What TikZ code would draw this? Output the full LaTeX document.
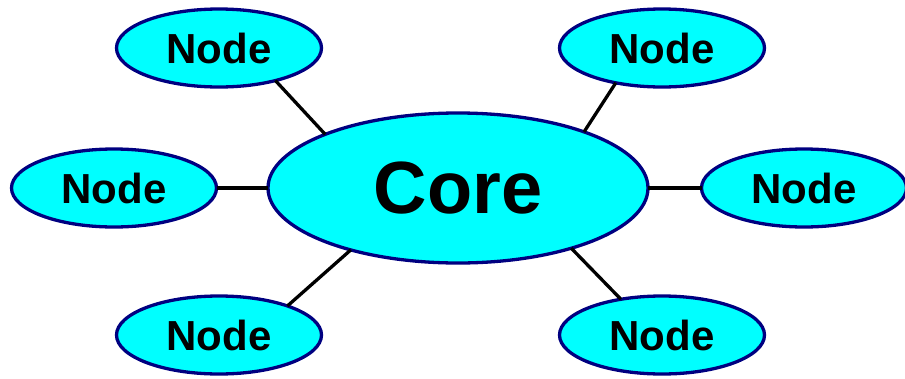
\documentclass[tikz,border=0pt]{standalone}
\usepackage{fontspec}
\setmainfont{Liberation Sans}
\usetikzlibrary{shapes.geometric}
\definecolor{rimblue}{RGB}{0,0,128}
\definecolor{fillcyan}{RGB}{0,255,255}
\tikzset{
  blob/.style={ellipse, draw=rimblue, fill=fillcyan, line width=3.3pt,
    inner sep=0pt, outer sep=0pt},
  leaf/.style={blob, minimum width=205pt, minimum height=78pt,
    font=\fontsize{42}{42}\selectfont\bfseries},
  hub/.style={blob, minimum width=380pt, minimum height=150pt,
    font=\fontsize{74}{74}\selectfont\bfseries},
  link/.style={draw=black, line width=3.3pt}
}
\begin{document}
\begin{tikzpicture}[x=1pt,y=-1pt]
\useasboundingbox (0,0) rectangle (905,378);
\node[hub]  (core) at (458,188) {Core};
\node[leaf] (tl) at (219,48)  {Node};
\node[leaf] (tr) at (662,48)  {Node};
\node[leaf] (ml) at (114,188) {Node};
\node[leaf] (mr) at (804,188) {Node};
\node[leaf] (bl) at (219,335) {Node};
\node[leaf] (br) at (662,335) {Node};
\draw[link] (tl.-30) -- (core.158);
\draw[link] (tr.-143) -- (core.24);
\draw[link] (ml.east) -- (core.west);
\draw[link] (mr.west) -- (core.east);
\draw[link] (bl.23) -- (core.210);
\draw[link] (br.139) -- (core.332);
\end{tikzpicture}
\end{document}
